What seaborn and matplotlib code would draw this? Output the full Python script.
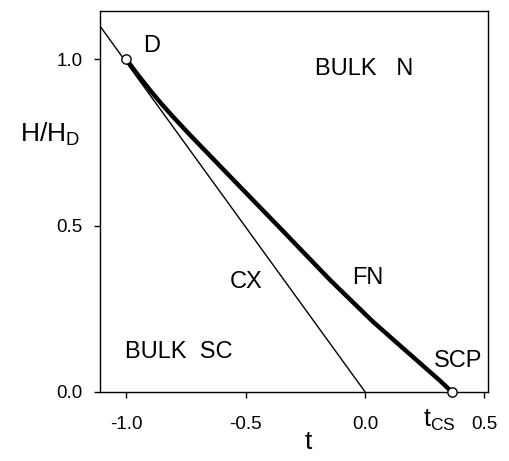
import numpy as np
import pandas as pd
import seaborn as sns
import matplotlib.pyplot as plt

# phase boundary data
fn_t = [-1.0, -0.95, -0.898, -0.85, -0.80, -0.731, -0.563, -0.355, -0.146,
        0.033, 0.175, 0.313, 0.363]
fn_h = [1.0, 0.952, 0.905, 0.864, 0.824, 0.771, 0.646, 0.492, 0.336,
        0.211, 0.121, 0.034, 0.0]

cx_t = [-1.11, 0.0]
cx_h = [1.10, 0.0]

pts_t = [-1.0, 0.363]
pts_h = [1.0, 0.0]

xticks = [-1.0, -0.5, 0.0, 0.5]
yticks = [0.0, 0.5, 1.0]

sns.set_style("ticks")
plt.rcParams['font.family'] = ['Liberation Sans', 'DejaVu Sans']
plt.rcParams['text.color'] = 'black'
plt.rcParams['axes.labelcolor'] = 'black'

fig = plt.figure(figsize=(5.1, 4.61), dpi=100)
ax = fig.add_axes([0.196, 0.150, 0.761, 0.826])

fn = pd.DataFrame({'t': fn_t, 'H': fn_h})
cx = pd.DataFrame({'t': cx_t, 'H': cx_h})
pts = pd.DataFrame({'t': pts_t, 'H': pts_h})

sns.lineplot(data=cx, x='t', y='H', color='black', linewidth=1.0, ax=ax, sort=False)
sns.lineplot(data=fn, x='t', y='H', color='black', linewidth=3.2, ax=ax, sort=False)
sns.scatterplot(data=pts, x='t', y='H', color='white', edgecolor='black', s=45,
                linewidth=1.0, ax=ax, zorder=5, clip_on=False)

ax.set_xlim(-1.11, 0.515)
ax.set_ylim(0.0, 1.145)
ax.set_xticks(xticks)
ax.set_yticks(yticks)
ax.set_xticklabels(['-1.0', '-0.5', '0.0', '0.5'])
ax.set_yticklabels(['0.0', '0.5', '1.0'])
ax.tick_params(direction='out', length=4.5, width=1, labelsize=13.5, colors='black')
ax.tick_params(axis='x', pad=13)
ax.tick_params(axis='y', pad=8)
for s in ax.spines.values():
    s.set_visible(True)
    s.set_linewidth(1.0)
    s.set_color('black')

ax.set_xlabel('t', fontsize=19)
ax.xaxis.set_label_coords(0.536, -0.10)
ax.set_ylabel('H/H$_\\mathregular{D}$', fontsize=19, rotation=0, ha='center', va='center')
ax.yaxis.set_label_coords(-0.129, 0.677)

fs = 17
ax.text(-0.895, 1.04, 'D', fontsize=fs, ha='center', va='center')
ax.text(-0.004, 0.97, 'BULK   N', fontsize=fs, ha='center', va='center')
ax.text(-0.50, 0.33, 'CX', fontsize=fs, ha='center', va='center')
ax.text(0.01, 0.342, 'FN', fontsize=fs, ha='center', va='center')
ax.text(-0.78, 0.12, 'BULK  SC', fontsize=fs, ha='center', va='center')
ax.text(0.39, 0.093, 'SCP', fontsize=fs, ha='center', va='center')
ax.text(0.31, -0.085, 't$_\\mathregular{CS}$', fontsize=18, ha='center', va='center',
        clip_on=False)

fig.savefig('out.png', dpi=100)
